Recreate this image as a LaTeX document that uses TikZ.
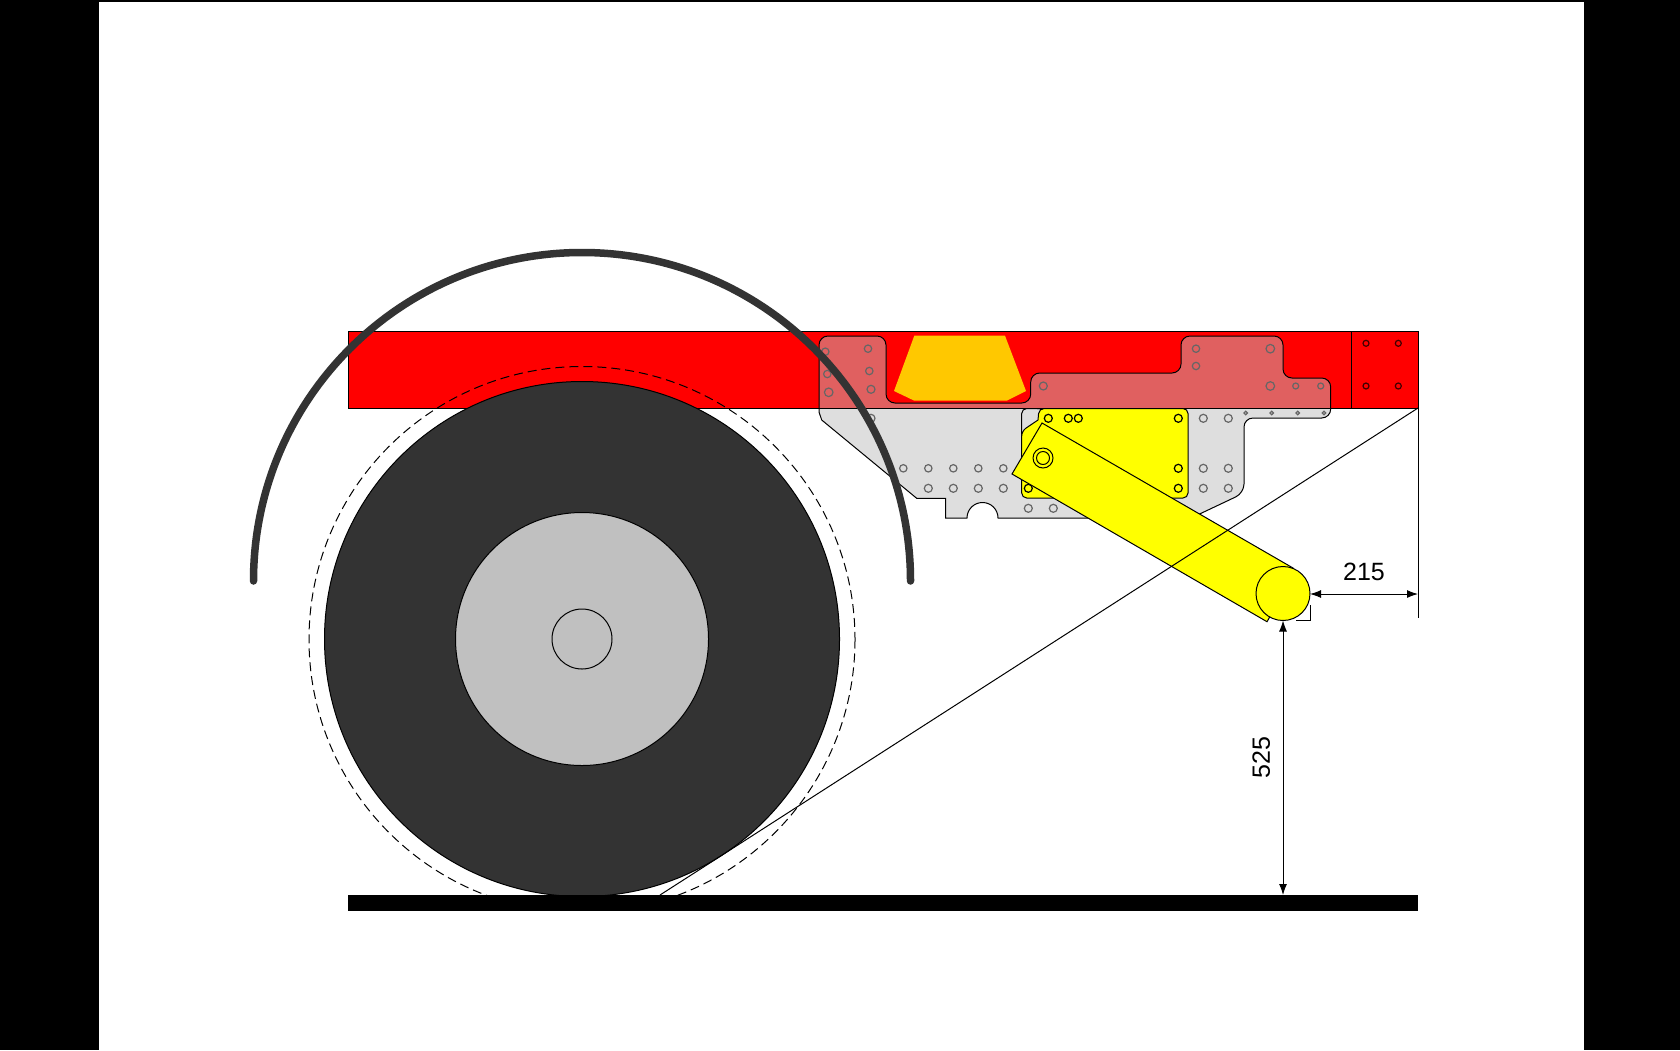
\documentclass[tikz,border=0pt]{standalone}
\usepackage{fontspec}
\setmainfont{Liberation Sans}
\usetikzlibrary{arrows.meta,positioning,calc}

\definecolor{tyre}{HTML}{333333}
\definecolor{hub}{HTML}{C0C0C0}
\definecolor{plategray}{HTML}{DEDEDE}
\definecolor{platered}{HTML}{E06060}
\definecolor{amber}{HTML}{FFC800}
\definecolor{armyellow}{HTML}{FFFF00}
\definecolor{beamred}{HTML}{FF0000}

\newcommand{\platepath}{(819,346) [rounded corners=9pt] -- (819,336) -- (886,336) -- (886,403) -- (1030.7,403) -- (1030.7,373) -- (1181,373) -- (1181,336) -- (1283,336) -- (1283,378) -- (1330.7,378) -- (1330.7,418) -- (1244,418) -- (1244,493) [sharp corners] -- (1201.7,513) -- (1190,518) -- (998,518) arc (0:-180:15.5) -- (945.7,518) -- (945.7,498.3) -- (916.7,498.3) -- (821.7,420) -- (819,412) -- cycle}

\begin{document}
\begin{tikzpicture}[x=1pt,y=-1pt,line width=1pt,
    hole/.style={draw=black!60, line width=1.2pt},
    yhole/.style={draw=black, line width=1.2pt},
    bolt/.style={draw=black!75!red, line width=1.2pt},
    dimline/.style={{Latex[length=11pt,width=8pt]}-{Latex[length=11pt,width=8pt]}, line width=1pt},
    dimtext/.style={font=\fontsize{25}{30}\selectfont}
]
    \useasboundingbox (0,0) rectangle (1680,1050);

    % Margins
    \fill[black] (0,0) rectangle (98.5,1050);
    \fill[black] (1583.5,0) rectangle (1680,1050);
    \fill[black] (98.5,0) rectangle (1583.5,1.5);

    % Key points
    \coordinate (wheelc) at (582,639);
    \coordinate (endc) at (1283,593.5);
    \coordinate (beamr) at (1418,408);
    \coordinate (groundt) at (660,895);
    \coordinate (dimr) at (1418,594);
    \coordinate (dimb) at (1283,895);

    % Beam
    \draw[fill=beamred] (348,331) rectangle (1418,408);
    \draw (1351,331) -- (1351,408);
    \foreach \x in {1366,1398.3}
        \foreach \y in {343.3,386}
            \draw[bolt] (\x,\y) circle (3);

    % Amber light
    \fill[amber] (914.3,335.7) -- (1005,335.7) -- (1026,391) -- (1006.7,400.7) -- (914.3,400.7) -- (894,391) -- cycle;

    % Plate
    \fill[plategray] \platepath;
    \begin{scope}
        \clip (348,331) rectangle (1418,408);
        \fill[platered] \platepath;
    \end{scope}
    \draw \platepath;
    \draw (348,408) -- (1418,408);

    % Holes in plate
    \foreach \x/\y/\r in {825.3/351.7/3.7, 868/348.7/3.7, 827.3/374/3.7, 869.3/371/3.7, 828.7/392.3/4.3, 871/389.3/4, 1043.3/386/4, 871/418.3/4,
        903.3/468.3/3.7, 928.3/468.3/3.7, 953.3/468.3/3.7, 978.3/468.3/3.7, 1003.3/468.3/3.7,
        928.3/488.3/4, 953.3/488.3/4, 978.3/488.3/4, 1003.3/488.3/4, 1028.3/508.3/4, 1053.3/508.3/4,
        1203.3/418.3/4, 1228.3/418.3/4, 1203.3/468.3/4, 1228.3/468.3/4, 1203.3/488.3/4, 1228.3/488.3/4,
        1196/348.7/3.7, 1196/366/3.7, 1270.3/348.7/4.3, 1270.3/386/4.3, 1295.7/386/3, 1320.7/386/3,
        1245.7/413/1.8, 1271.7/413/1.8, 1297.7/413/1.8, 1324/413/1.8}
        \draw[hole] (\x,\y) circle (\r);

    % Yellow plate
    \draw[rounded corners=5pt] (1021.7,436) -- (1021.7,408.5) -- (1044,408.5);
    \draw[fill=armyellow, rounded corners=5pt] (1042,408.5) -- (1188,408.5) -- (1188,498) -- (1021.7,498) -- (1021.7,431) [sharp corners] -- (1038,420) [rounded corners=5pt] -- (1039,408.5) -- cycle;
    \foreach \x/\y in {1048.3/418.3, 1068.3/418.3, 1078.3/418.3, 1028.3/488.3, 1178.3/418.3, 1178.3/468.3, 1178.3/488.3}
        \draw[yhole] (\x,\y) circle (4);

    % Wheel
    \draw[fill=tyre] (wheelc) circle (257.5);
    \draw[fill=hub] (wheelc) circle (126.5);
    \draw (wheelc) circle (30);
    \begin{scope}
        \clip (300,340) rectangle (880,895);
        \draw[dashed, dash pattern=on 9pt off 5pt] (582,639.5) circle (273);
    \end{scope}

    % Mudguard
    \draw[tyre, line width=7.5pt, line cap=round] (253.5,581) arc[start angle=180, end angle=360, radius=328.5];

    % Ground
    \fill[black] (348,895) rectangle (1418,911);

    % Underrun arm
    \draw[fill=armyellow] (1042,423) -- (1293,568) -- (1269,618.3) -- (1267,621.7) -- (1012,474) -- cycle;
    \draw[fill=armyellow] (endc) circle (27);
    \draw (1043,458) circle (10);
    \draw (1043,458) circle (6.5);

    % Clearance lines
    \draw (beamr) -- (groundt);
    \draw (beamr) -- (1418,618);
    \draw (1296,620.5) -- (1310,620.5) -- (1310,605);
    \draw[dimline] (1310,594) -- (dimr) node[midway, above=9pt, dimtext] (reartext) {215};
    \draw[dimline] (1283,620.5) -- (dimb) node[midway, left=9pt, rotate=90, anchor=south, dimtext] (hgttext) {525};
\end{tikzpicture}
\end{document}
